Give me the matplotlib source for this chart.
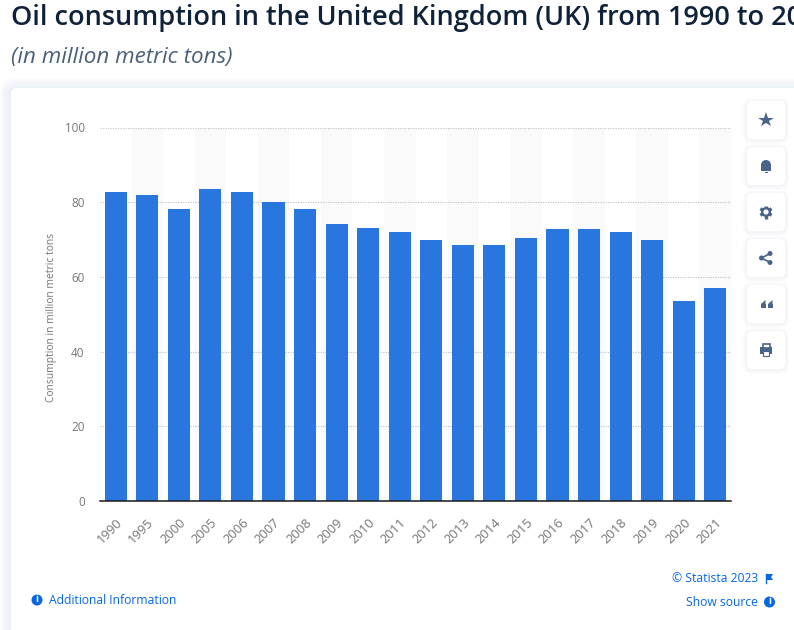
# -*- coding: utf-8 -*-
import matplotlib
matplotlib.use('Agg')
import numpy as np
import matplotlib.pyplot as plt
from matplotlib.patches import FancyBboxPatch, Circle, Rectangle, Polygon, Wedge

years = ['1990', '1995', '2000', '2005', '2006', '2007', '2008', '2009', '2010', '2011',
         '2012', '2013', '2014', '2015', '2016', '2017', '2018', '2019', '2020', '2021']
consumption = [82.8, 82.0, 78.2, 83.6, 82.8, 80.1, 78.2, 74.2, 73.1, 72.0,
               69.9, 68.6, 68.6, 70.4, 72.8, 72.8, 71.9, 69.9, 53.6, 57.0]
yticks = [0, 20, 40, 60, 80, 100]

W, H = 794, 630
BLUE = '#2976de'
LINK = '#0666e5'
ICON = '#4a6489'

plt.rcParams['font.family'] = ['Open Sans', 'DejaVu Sans']

fig = plt.figure(figsize=(W / 100, H / 100), dpi=100, facecolor='white')

# page background in pixel coordinates
bg = fig.add_axes([0, 0, 1, 1])
bg.set_xlim(0, W)
bg.set_ylim(H, 0)
bg.axis('off')


def card(x, y, w, h, r=5, shadow=5, alpha=0.05):
    # soft shadow made of a few stacked boxes
    for i in range(shadow, 0, -1):
        bg.add_patch(FancyBboxPatch((x - i, y - i + 1), w + 2 * i, h + 2 * i,
                                    boxstyle='round,pad=0,rounding_size=%d' % (r + i),
                                    fc='#dfe4ec', ec='none', alpha=alpha))
    bg.add_patch(FancyBboxPatch((x, y), w, h, boxstyle='round,pad=0,rounding_size=%d' % r,
                                fc='white', ec='none'))


card(11, 88, 800, 560, r=6, shadow=11, alpha=0.06)

bg.text(11, 18.5, 'Oil consumption in the United Kingdom (UK) from 1990 to 2021', fontsize=19.5,
        fontweight='semibold', color='#0f2239', va='center', ha='left')
bg.text(11, 58, '(in million metric tons)', fontsize=16.1, style='italic',
        color='#4a5f78', va='center', ha='left')

# side buttons
for cy in [120, 166, 212, 258, 304, 350]:
    card(747, cy - 19, 38, 38, r=5, shadow=4, alpha=0.09)

bg.plot([766], [120], marker='*', ms=11.5, color=ICON, mew=0)
# bell
bg.add_patch(Wedge((766, 165), 5, 180, 360, fc=ICON, ec='none'))
bg.add_patch(Rectangle((761, 164.5), 10, 6, fc=ICON, ec='none'))
bg.add_patch(Rectangle((764.5, 171.5), 3, 1, fc=ICON, ec='none'))
# cog
bg.add_patch(Circle((766, 212), 5, fc=ICON, ec='none', zorder=5))
for a in np.arange(0, 360, 60):
    bg.plot([766, 766 + 6.5 * np.cos(np.radians(a + 30))], [212, 212 + 6.5 * np.sin(np.radians(a + 30))],
            color=ICON, lw=2.4, zorder=5, solid_capstyle='butt')
bg.add_patch(Circle((766, 212), 2.6, fc='white', ec='none', zorder=6))
# share
for px, py in [(761.5, 258), (770, 253.5), (770, 262.5)]:
    bg.add_patch(Circle((px, py), 2.5, fc=ICON, ec='none'))
bg.plot([770, 761.5, 770], [253.5, 258, 262.5], color=ICON, lw=1.2)
# quote
for qx in [761, 768]:
    bg.add_patch(Rectangle((qx, 304), 4.5, 4, fc=ICON, ec='none'))
    bg.add_patch(Polygon([(qx, 304), (qx + 4.5, 300), (qx + 4.5, 304)], fc=ICON, ec='none'))
# print
bg.add_patch(Rectangle((760, 347), 12, 7, fc=ICON, ec='none'))
bg.add_patch(Rectangle((762.5, 344), 7, 4, fc='white', ec=ICON, lw=1.2))
bg.add_patch(Rectangle((763, 351), 6, 4.5, fc='white', ec=ICON, lw=0.8))

# chart
L, R, T, B = 100, 731, 127.5, 501
ax = fig.add_axes([L / W, 1 - B / H, (R - L) / W, (B - T) / H])
ax.patch.set_alpha(0)
x = np.arange(len(years))
for i in x[1::2]:
    ax.axvspan(i - 0.5, i + 0.5, color='#fafafa', lw=0, zorder=0)
ax.bar(x, consumption, width=0.7, color=BLUE, zorder=3)
ax.set_xlim(-0.5, len(years) - 0.5)
ax.set_ylim(0, 100)
ax.set_yticks(yticks)
ax.set_xticks(x)
ax.set_xticklabels(years, rotation=45, ha='right', va='top', rotation_mode='anchor')
ax.grid(axis='y', color='#c8c8c8', linestyle=(0, (1, 1)), lw=0.9, zorder=1)
ax.tick_params(axis='both', length=0, labelcolor='#757575')
ax.tick_params(axis='x', pad=11, labelsize=9.4)
ax.tick_params(axis='y', pad=11, labelsize=8.4)
for s in ['top', 'left', 'right']:
    ax.spines[s].set_visible(False)
ax.spines['bottom'].set_color('#1a1a1a')
ax.spines['bottom'].set_linewidth(1.1)
ax.spines['bottom'].set_zorder(4)
bg.text(52, 317, 'Consumption in million metric tons', fontsize=7.4, color='#757575',
        rotation=90, va='center', ha='center')

# footer
bg.add_patch(Circle((37, 600), 5.5, fc=LINK, ec='none'))
bg.text(37, 600, 'i', fontsize=7, fontweight='bold', color='white', ha='center', va='center')
bg.text(49, 600, 'Additional Information', fontsize=8.7, color=LINK, va='center', ha='left')
bg.text(758, 578, '© Statista 2023', fontsize=8.7, color=LINK, va='center', ha='right')
bg.plot([766, 766], [574, 583], color=LINK, lw=1)
bg.add_patch(Polygon([(766, 574), (773, 574), (771, 577), (773, 580), (766, 580)], fc=LINK, ec='none'))
bg.text(758, 602, 'Show source', fontsize=8.7, color=LINK, va='center', ha='right')
bg.add_patch(Circle((769.5, 602), 5.5, fc=LINK, ec='none'))
bg.text(769.5, 602, 'i', fontsize=7, fontweight='bold', color='white', ha='center', va='center')

fig.savefig('out.png', dpi=100)
